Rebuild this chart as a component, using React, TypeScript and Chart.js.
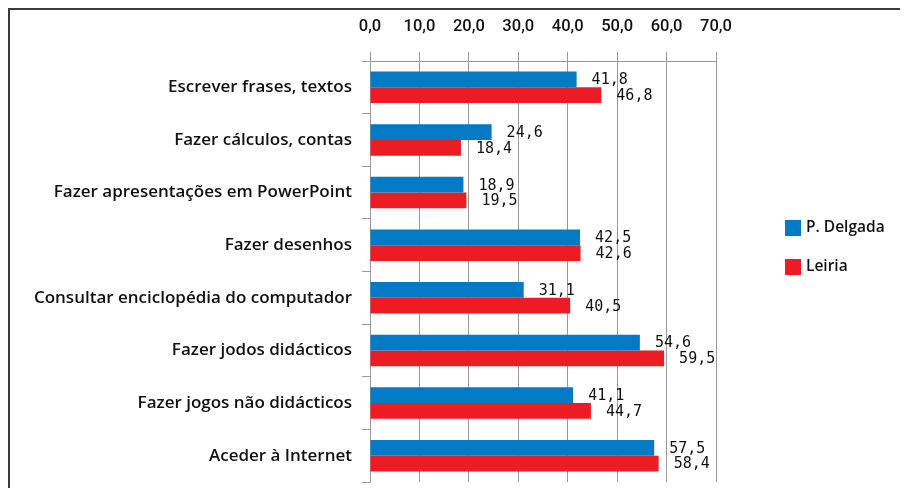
import React, { useEffect, useRef } from "react";
import { Chart, registerables } from "chart.js";

Chart.register(...registerables);

const categories = [
  "Escrever frases, textos",
  "Fazer cálculos, contas",
  "Fazer apresentações em PowerPoint",
  "Fazer desenhos",
  "Consultar enciclopédia do computador",
  "Fazer jodos didácticos",
  "Fazer jogos não didácticos",
  "Aceder à Internet",
];
const seriesNames = ["P. Delgada", "Leiria"];
const pDelgada = [41.8, 24.6, 18.9, 42.5, 31.1, 54.6, 41.1, 57.5];
const leiria = [46.8, 18.4, 19.5, 42.6, 40.5, 59.5, 44.7, 58.4];
const axisMin = 0;
const axisMax = 70;
const axisStep = 10;

const BLUE = "#0479c4";
const RED = "#ed1c24";
const LABEL_FONT = "'Open Sans'";
const fmt = (v: number) => v.toFixed(1).replace(".", ",");

const valueLabels = {
  id: "valueLabels",
  afterDatasetsDraw(chart: any) {
    const ctx = chart.ctx;
    ctx.save();
    ctx.font = "15px 'DejaVu Sans Mono'";
    ctx.fillStyle = "#111";
    ctx.textAlign = "left";
    ctx.textBaseline = "middle";
    chart.data.datasets.forEach((ds: any, di: number) => {
      const meta = chart.getDatasetMeta(di);
      meta.data.forEach((el: any, i: number) => {
        ctx.fillText(fmt(ds.data[i]), el.x + 15, el.y + 1);
      });
    });
    ctx.restore();
  },
};

const sideLegend = {
  id: "sideLegend",
  afterDraw(chart: any) {
    const ctx = chart.ctx;
    ctx.save();
    ctx.font = "600 15.5px " + LABEL_FONT;
    ctx.textBaseline = "middle";
    ctx.textAlign = "left";
    chart.data.datasets.forEach((ds: any, di: number) => {
      const y = 210 + di * 39;
      ctx.fillStyle = ds.backgroundColor;
      ctx.fillRect(775, y, 16, 16);
      ctx.fillStyle = "#111";
      ctx.fillText(ds.label, 796, y + 8);
    });
    ctx.restore();
  },
};

export default function App() {
  const ref = useRef<HTMLCanvasElement | null>(null);
  useEffect(() => {
    if (!ref.current) return;
    const chart = new Chart(ref.current, {
      type: "bar",
      data: {
        labels: categories,
        datasets: [
          { label: seriesNames[0], data: pDelgada, backgroundColor: BLUE, categoryPercentage: 0.6, barPercentage: 1 },
          { label: seriesNames[1], data: leiria, backgroundColor: RED, categoryPercentage: 0.6, barPercentage: 1 },
        ],
      },
      options: {
        indexAxis: "y",
        animation: false,
        responsive: false,
        maintainAspectRatio: false,
        layout: { padding: { top: 0, left: 0, right: 192, bottom: 6 } },
        plugins: { legend: { display: false }, tooltip: { enabled: false } },
        scales: {
          x: {
            position: "top",
            min: axisMin,
            max: axisMax,
            afterFit: (s: any) => { s.height = 51; },
            ticks: {
              stepSize: axisStep,
              padding: 15,
              color: "#111",
              font: { family: "Roboto", size: 16.5, weight: "500" },
              callback: (v: any) => fmt(Number(v)),
            },
            grid: { color: "#999", lineWidth: 1, tickLength: 9, drawTicks: true },
            border: { color: "#999", width: 1 },
          },
          y: {
            afterFit: (s: any) => {
              s.width = 360;
              s.paddingTop = 0;
              s.paddingBottom = 0;
            },
            ticks: {
              padding: 10,
              color: "#111",
              font: { family: LABEL_FONT, size: 17, weight: "600" },
            },
            grid: { drawOnChartArea: false, color: "#999", tickLength: 8, offset: true },
            border: { color: "#999", width: 1 },
          },
        },
      },
      plugins: [valueLabels, sideLegend],
    });
    return () => chart.destroy();
  }, []);
  return (
    <div
      style={{
        width: 900,
        height: 480,
        boxSizing: "border-box",
        borderTop: "2px solid #3c3c3c",
        borderLeft: "2px solid #3c3c3c",
        background: "#fff",
      }}
    >
      <canvas ref={ref} width={898} height={478} style={{ display: "block" }} />
    </div>
  );
}
